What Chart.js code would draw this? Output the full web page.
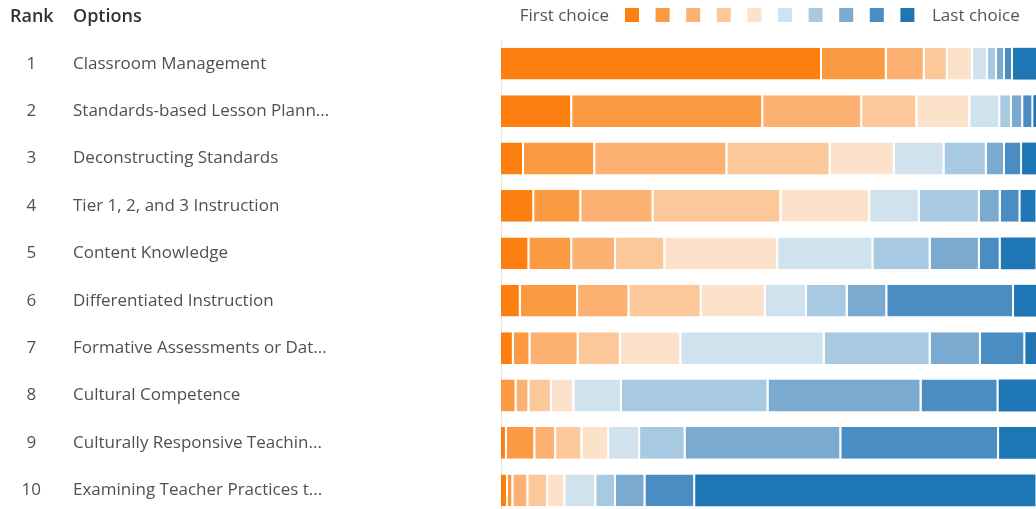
<!DOCTYPE html>
<html lang="en">
<head>
<meta charset="UTF-8">
<title>Professional Learning Priorities - Ranking</title>
<script src="https://cdn.jsdelivr.net/npm/chart.js"></script>
<style>
  html, body { margin: 0; padding: 0; background: #fff; overflow: hidden; }
  #wrap { width: 1036px; height: 514px; }
</style>
</head>
<body>
<div id="wrap"><canvas id="rankChart"></canvas></div>
<script>
const ranks = ['1', '2', '3', '4', '5', '6', '7', '8', '9', '10'];
const options = [
    'Classroom Management',
    'Standards-based Lesson Plann...',
    'Deconstructing Standards',
    'Tier 1, 2, and 3 Instruction',
    'Content Knowledge',
    'Differentiated Instruction',
    'Formative Assessments or Dat...',
    'Cultural Competence',
    'Culturally Responsive Teachin...',
    'Examining Teacher Practices t...'
];
const choiceColors = ['#fd7f0f', '#fc9a42', '#fcb173', '#fdc899', '#fde2cb',
                      '#d1e2ef', '#a7c9e1', '#7aaad0', '#4a8dc2', '#1f76b4'];

// share of respondents (%) per choice, first choice -> last choice
const classroomManagement = [60.0, 12.1, 7.1, 4.3, 4.7, 2.8, 1.7, 1.5, 1.5, 4.3];
const lessonPlanning      = [13.3, 35.7, 18.5, 10.3, 9.9, 5.6, 2.2, 2.1, 1.9, 0.5];
const deconstructing      = [4.3, 13.3, 24.7, 19.3, 12.0, 9.3, 7.9, 3.4, 3.2, 2.8];
const tierInstruction     = [6.2, 8.8, 13.5, 23.9, 16.6, 9.3, 11.2, 3.9, 3.7, 2.8];
const contentKnowledge    = [5.3, 8.0, 8.2, 9.2, 21.1, 17.8, 10.7, 9.2, 3.9, 6.5];
const differentiated      = [3.7, 10.7, 9.6, 13.5, 12.0, 7.7, 7.6, 7.4, 23.7, 4.1];
const formativeAssess     = [2.4, 3.1, 9.0, 7.9, 11.3, 26.8, 19.8, 9.4, 8.3, 2.0];
const culturalCompetence  = [0, 2.9, 2.4, 4.2, 4.2, 8.9, 27.4, 28.6, 14.4, 7.0];
const responsiveTeaching  = [1.1, 5.3, 3.9, 4.9, 5.0, 5.8, 8.5, 29.1, 29.5, 7.0];
const teacherPractices    = [1.3, 1.0, 2.8, 3.7, 3.2, 5.8, 3.7, 5.5, 9.3, 63.6];

const rows = [classroomManagement, lessonPlanning, deconstructing, tierInstruction,
              contentKnowledge, differentiated, formativeAssess, culturalCompetence,
              responsiveTeaching, teacherPractices];

const FONT = '"Open Sans", "Noto Sans", sans-serif';

const datasets = choiceColors.map((color, i) => ({
    label: 'Choice ' + (i + 1),
    data: rows.map(r => r[i]),
    backgroundColor: color,
    borderColor: '#ffffff',
    borderWidth: {top: 0, bottom: 0, left: 0, right: i === choiceColors.length - 1 ? 0 : 2},
    borderSkipped: false,
    barPercentage: 0.67,
    categoryPercentage: 1.0
}));

// column headers and the first-to-last colour key
const headerAndKey = {
    id: 'headerAndKey',
    afterDraw(chart) {
        const ctx = chart.ctx;
        ctx.save();
        ctx.textBaseline = 'middle';
        ctx.font = '600 18px ' + FONT;
        ctx.fillStyle = '#333333';
        ctx.textAlign = 'left';
        ctx.fillText('Rank', 10, 17);
        ctx.fillText('Options', 73, 17);

        ctx.font = '17px ' + FONT;
        ctx.fillStyle = '#555555';
        ctx.textAlign = 'right';
        ctx.fillText('First choice', 609, 16);
        choiceColors.forEach((c, i) => {
            ctx.fillStyle = c;
            ctx.fillRect(625 + i * 30.6, 8, 14, 14);
        });
        ctx.fillStyle = '#555555';
        ctx.textAlign = 'left';
        ctx.fillText('Last choice', 932, 16);
        ctx.restore();
    }
};

// label axes should not push the plot area in from the top/bottom
function noVerticalPadding(scale, width) {
    scale.width = width;
    scale.paddingTop = 0;
    scale.paddingBottom = 0;
}

const ctx = document.getElementById('rankChart').getContext('2d');
new Chart(ctx, {
    type: 'bar',
    data: {
        labels: options,
        datasets: datasets
    },
    plugins: [headerAndKey],
    options: {
        indexAxis: 'y',
        responsive: true,
        maintainAspectRatio: false,
        animation: false,
        layout: {
            padding: {top: 40, right: 0, bottom: 0, left: 0}
        },
        scales: {
            x: {
                stacked: true,
                display: false,
                min: 0,
                max: 100
            },
            y: {
                stacked: true,
                position: 'left',
                weight: 0,
                grid: {display: false, drawTicks: false},
                border: {display: true, color: '#e8e8e8', width: 1},
                afterFit(scale) { noVerticalPadding(scale, 428); },
                ticks: {
                    crossAlign: 'far',
                    padding: 0,
                    color: '#505050',
                    font: {family: FONT, size: 17}
                }
            },
            yRank: {
                type: 'category',
                labels: ranks,
                position: 'left',
                weight: 1,
                offset: true,
                grid: {display: false, drawTicks: false},
                border: {display: false},
                afterFit(scale) { noVerticalPadding(scale, 73); },
                ticks: {
                    crossAlign: 'center',
                    padding: 32,
                    color: '#505050',
                    font: {family: FONT, size: 17}
                }
            }
        },
        plugins: {
            legend: {display: false},
            tooltip: {enabled: false}
        }
    }
});
</script>
</body>
</html>
